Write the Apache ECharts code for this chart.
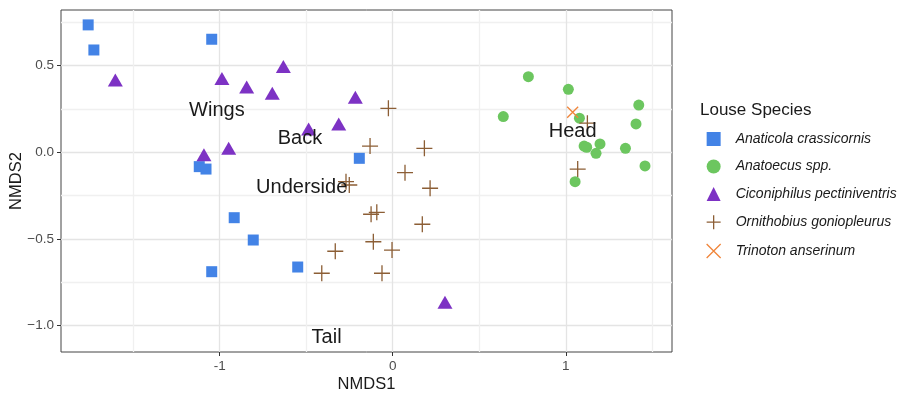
<!DOCTYPE html>
<html>
<head>
<meta charset="utf-8">
<script src="https://cdn.jsdelivr.net/npm/echarts@6/dist/echarts.min.js"></script>
<style>
  html, body { margin: 0; padding: 0; background: #fff; }
  #chart { width: 898px; height: 396px; }
</style>
</head>
<body>
<div id="chart"></div>
<script>
// NMDS coordinates, [NMDS1, NMDS2]
const anaticola = [
  [-1.760, 0.736], [-1.727, 0.591], [-1.046, 0.653], [-1.118, -0.083],
  [-1.079, -0.097], [-0.193, -0.035], [-0.916, -0.378], [-0.806, -0.507],
  [-1.046, -0.690], [-0.549, -0.663]
];
const anatoecus = [
  [0.784, 0.437], [1.015, 0.364], [0.639, 0.206], [1.422, 0.273],
  [1.406, 0.164], [1.079, 0.197], [1.106, 0.036], [1.121, 0.029],
  [1.198, 0.048], [1.175, -0.006], [1.345, 0.023], [1.458, -0.079],
  [1.054, -0.170]
];
const ciconiphilus = [
  [-1.603, 0.418], [-0.987, 0.426], [-0.844, 0.377], [-0.632, 0.495],
  [-0.696, 0.341], [-0.216, 0.318], [-0.312, 0.164], [-0.486, 0.135],
  [-1.091, -0.014], [-0.948, 0.023], [0.302, -0.867]
];
const ornithobius = [
  [-0.025, 0.254], [-0.131, 0.036], [0.183, 0.023], [0.071, -0.118],
  [0.216, -0.208], [-0.270, -0.170], [-0.251, -0.189], [-0.125, -0.358],
  [-0.092, -0.347], [0.171, -0.416], [-0.112, -0.517], [-0.004, -0.565],
  [-0.332, -0.572], [-0.410, -0.699], [-0.062, -0.699], [1.125, 0.168],
  [1.069, -0.097]
];
const trinoton = [
  [1.040, 0.231]
];

// body region labels placed in the ordination space
const regionNames = ['Wings', 'Back', 'Underside', 'Tail', 'Head'];
const regionPos = [
  [-1.016, 0.239], [-0.536, 0.077], [-0.526, -0.202], [-0.382, -1.069], [1.040, 0.119]
];

const speciesNames = [
  'Anaticola crassicornis',
  'Anatoecus spp.',
  'Ciconiphilus pectiniventris',
  'Ornithobius goniopleurus',
  'Trinoton anserinum'
];

const xTicks = [-1, 0, 1];
const yTicks = [-1, -0.5, 0, 0.5];
const xRange = [-1.917, 1.614];
const yRange = [-1.154, 0.822];

const font = 'Liberation Sans, Arial, Helvetica, sans-serif';
const majorGrid = '#e4e4e4';
const minorGrid = '#f0f0f0';

const PLUS = 'path://M0,-1L0,1M-1,0L1,0';
const CROSS = 'path://M-1,-1L1,1M-1,1L1,-1';

let chart = echarts.init(document.getElementById('chart'));

// helper axis on the opposite side: only draws the major/minor grid
function gridAxis(range, step, colors) {
  return {
    type: 'value',
    min: range[0],
    max: range[1],
    minInterval: step,
    maxInterval: step,
    axisLine: { show: false, onZero: false },
    axisTick: { show: false },
    axisLabel: { show: false },
    splitLine: {
      show: true,
      showMinLine: false,
      showMaxLine: false,
      lineStyle: { color: colors, width: 1.3 }
    }
  };
}

let option = {
  animation: false,
  textStyle: { fontFamily: font },
  title: {
    text: 'Louse Species',
    left: 695,
    top: 97,
    textStyle: { fontFamily: font, fontSize: 17, fontWeight: 'normal', color: '#1a1a1a' }
  },
  legend: {
    orient: 'vertical',
    left: 706,
    top: 132,
    padding: 0,
    itemWidth: 14,
    itemHeight: 14,
    itemGap: 13.5,
    textStyle: {
      fontFamily: font, fontSize: 14, fontStyle: 'italic', color: '#1a1a1a',
      padding: [0, 0, 0, 10]
    },
    data: [
      { name: speciesNames[0], itemStyle: { borderWidth: 0 } },
      { name: speciesNames[1], itemStyle: { borderWidth: 0 } },
      { name: speciesNames[2], itemStyle: { borderWidth: 0 } },
      { name: speciesNames[3], itemStyle: { borderWidth: 1.3 } },
      { name: speciesNames[4], itemStyle: { borderWidth: 1.3 } }
    ]
  },
  grid: {
    left: 61,
    right: 226,
    top: 10,
    bottom: 44,
    containLabel: false,
    outerBoundsMode: 'none',
    show: true,
    borderColor: '#444',
    borderWidth: 1,
    backgroundColor: '#fff'
  },
  xAxis: [{
    type: 'value',
    position: 'bottom',
    min: xRange[0],
    max: xRange[1],
    name: 'NMDS1',
    nameLocation: 'middle',
    nameGap: 24,
    nameMoveOverlap: false,
    nameTextStyle: { fontFamily: font, fontSize: 16.5, color: '#1a1a1a' },
    axisLine: { show: false, onZero: false },
    axisTick: { show: true, customValues: xTicks, length: 4, lineStyle: { color: '#333' } },
    axisLabel: {
      customValues: xTicks,
      margin: 7,
      fontSize: 13.5,
      color: '#4d4d4d',
      formatter: v => String(v)
    },
    splitLine: { show: false }
  }, gridAxis(xRange, 0.5, [minorGrid, majorGrid])],
  yAxis: [{
    type: 'value',
    position: 'left',
    min: yRange[0],
    max: yRange[1],
    name: 'NMDS2',
    nameLocation: 'middle',
    nameGap: 36,
    nameMoveOverlap: false,
    nameTextStyle: { fontFamily: font, fontSize: 16.5, color: '#1a1a1a' },
    axisLine: { show: false, onZero: false },
    axisTick: { show: true, customValues: yTicks, length: 4, lineStyle: { color: '#333' } },
    axisLabel: {
      customValues: yTicks,
      margin: 7,
      fontSize: 13.5,
      color: '#4d4d4d',
      formatter: v => v.toFixed(1).replace('-', '\u2212')
    },
    splitLine: { show: false }
  }, gridAxis(yRange, 0.25, [majorGrid, minorGrid])],
  series: [
    {
      name: speciesNames[0],
      type: 'scatter',
      symbol: 'rect',
      symbolSize: 11,
      itemStyle: { color: '#4383e6', opacity: 1 },
      data: anaticola
    },
    {
      name: speciesNames[1],
      type: 'scatter',
      symbol: 'circle',
      symbolSize: 11,
      itemStyle: { color: '#6cc65f', opacity: 1 },
      data: anatoecus
    },
    {
      name: speciesNames[2],
      type: 'scatter',
      symbol: 'triangle',
      symbolSize: [15, 13],
      itemStyle: { color: '#7d32c4', opacity: 1 },
      data: ciconiphilus
    },
    {
      name: speciesNames[3],
      type: 'scatter',
      symbol: PLUS,
      symbolSize: 16,
      itemStyle: { color: '#8c5e35', borderColor: '#8c5e35', borderWidth: 1.3, opacity: 1 },
      data: ornithobius
    },
    {
      name: speciesNames[4],
      type: 'scatter',
      symbol: CROSS,
      symbolSize: 11,
      itemStyle: { color: '#f0853a', borderColor: '#f0853a', borderWidth: 1.3, opacity: 1 },
      data: trinoton
    },
    {
      name: 'regions',
      type: 'scatter',
      silent: true,
      symbolSize: 0,
      itemStyle: { opacity: 1 },
      label: {
        show: true,
        position: 'inside',
        formatter: p => p.name,
        fontFamily: font,
        fontSize: 20,
        color: '#1a1a1a'
      },
      data: regionNames.map((n, i) => ({ name: n, value: regionPos[i] }))
    }
  ]
};

chart.setOption(option);
</script>
</body>
</html>
